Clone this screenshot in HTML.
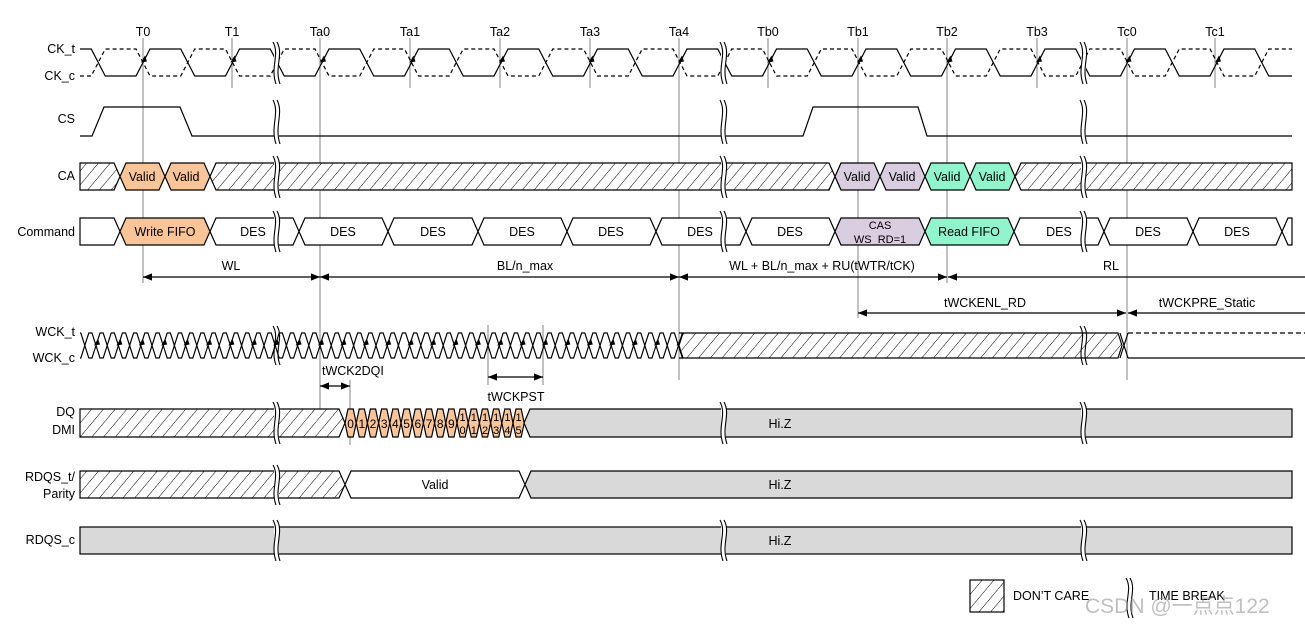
<!DOCTYPE html>
<html><head><meta charset="utf-8"><style>
html,body{margin:0;padding:0;background:#fff;}
svg{display:block;font-family:"Liberation Sans",Arial,sans-serif;}
</style></head><body>
<svg id="s" width="1305" height="626" viewBox="0 0 1305 626" xmlns="http://www.w3.org/2000/svg">
<defs>
<pattern id="h" patternUnits="userSpaceOnUse" width="9" height="9" patternTransform="rotate(40)">
<rect width="9" height="9" fill="#fff"/><line x1="0" y1="0" x2="0" y2="9" stroke="#000" stroke-width="1"/>
</pattern>
<marker id="a" viewBox="0 0 10 10" refX="10" refY="5" markerWidth="9" markerHeight="9" markerUnits="userSpaceOnUse" orient="auto-start-reverse"><path d="M0,1 L10,5 L0,9 z" fill="#000"/></marker>
</defs>
<g id="g"></g>
</svg>
<script>
var o=[];
function P(x){o.push(x);}
var T=[143,232,320,410,500,590,679,768,858,947,1037,1127,1215];
var TN=["T0","T1","Ta0","Ta1","Ta2","Ta3","Ta4","Tb0","Tb1","Tb2","Tb3","Tc0","Tc1"];
function txt(x,y,t,anc,sz,fill){P('<text x="'+x+'" y="'+y+'" font-size="'+(sz||12.5)+'" text-anchor="'+(anc||"middle")+'" fill="'+(fill||"#000")+'">'+t+'</text>');}
function vl(x,y1,y2){P('<line x1="'+x+'" y1="'+y1+'" x2="'+x+'" y2="'+y2+'" stroke="#999" stroke-width="1.2"/>');}
var vEnd=[283,88,410,88,88,88,380,88,318,283,88,380,88];
for(var i=0;i<T.length;i++){vl(T[i],38,vEnd[i]);txt(T[i],36,TN[i]);}
vl(488,325,385);vl(543,325,385);vl(350,380,445);
function lb(y,t){txt(75,y,t,"end",12.5);}
lb(53,"CK_t");lb(80,"CK_c");lb(123,"CS");lb(180,"CA");lb(236,"Command");
lb(336,"WCK_t");lb(362,"WCK_c");lb(416,"DQ");lb(434,"DMI");lb(481,"RDQS_t/");lb(498,"Parity");lb(544,"RDQS_c");
function clock(x0,x1,yt,yb,tr,per,hw,arrows){
  var half=per/2, ym=(yt+yb)/2;
  var k=Math.ceil((x0-tr)/half); var cs=[];
  for(var c=tr+k*half;c<x1;c+=half){cs.push([c,k]);k++;}
  var firstRise=((cs[0][1]%2)+2)%2==0;
  var tl=firstRise?yb:yt, cl=firstRise?yt:yb;
  var pt="M"+x0+","+tl, pc="M"+x0+","+cl;
  cs.forEach(function(e){var c=e[0];
    pt+=" L"+(c-hw)+","+tl+" L"+(c+hw)+","+cl; pc+=" L"+(c-hw)+","+cl+" L"+(c+hw)+","+tl;
    var t=tl;tl=cl;cl=t;
    if(arrows&&((e[1]%2)+2)%2==0){P('<path d="M'+(c+2)+','+(ym-7)+' L'+(c-2)+','+(ym)+' L'+(c+4)+','+(ym-1)+'z" fill="#000"/>');}
  });
  pt+=" L"+x1+","+tl; pc+=" L"+x1+","+cl;
  P('<path d="'+pt+'" fill="none" stroke="#000" stroke-width="1.2"/>');
  P('<path d="'+pc+'" fill="none" stroke="#000" stroke-width="1.2" '+(arrows==2?'':'stroke-dasharray="4,3"')+'/>');
}
clock(80,1292,49,76,143,89.5,7,1);
clock(80,679,333,358,320,22.4,4,2);
function hex(x1,x2,y1,y2,fill,s){s=s||6;var ym=(y1+y2)/2;
P('<path d="M'+x1+','+ym+' L'+(x1+s)+','+y1+' L'+(x2-s)+','+y1+' L'+x2+','+ym+' L'+(x2-s)+','+y2+' L'+(x1+s)+','+y2+'z" fill="'+fill+'" stroke="#000" stroke-width="1.2"/>');}
function rectL(x1,x2,y1,y2,fill,s){s=s||6;var ym=(y1+y2)/2;
P('<path d="M'+x1+','+y1+' L'+(x2-s)+','+y1+' L'+x2+','+ym+' L'+(x2-s)+','+y2+' L'+x1+','+y2+'z" fill="'+fill+'" stroke="#000" stroke-width="1.2"/>');}
function rectR(x1,x2,y1,y2,fill,s){s=s||6;var ym=(y1+y2)/2;
P('<path d="M'+x1+','+ym+' L'+(x1+s)+','+y1+' L'+x2+','+y1+' L'+x2+','+y2+' L'+(x1+s)+','+y2+'z" fill="'+fill+'" stroke="#000" stroke-width="1.2"/>');}
hex(679,1122,333,358,"url(#h)",4);
P('<path d="M1120,333 L1128,358 M1120,358 L1128,333" stroke="#000" stroke-width="1.2"/>');
P('<path d="M1128,333 L1305,333" stroke="#000" stroke-width="1.2" stroke-dasharray="5,3"/>');
P('<path d="M1128,358 L1305,358" stroke="#000" stroke-width="1.2"/>');
P('<path d="M80,136 L92,136 L104,107 L180,107 L192,136 L803,136 L813,107 L918,107 L927,136 L1292,136" fill="none" stroke="#000" stroke-width="1.2"/>');
var OR="#f9c597",PU="#d9cde0",GR="#8ff5cc",GY="#d9d9d9";
rectL(80,120,163,190,"url(#h)");
hex(120,165,163,190,OR);hex(165,210,163,190,OR);
hex(210,835,163,190,"url(#h)");
hex(835,880,163,190,PU);hex(880,925,163,190,PU);hex(925,970,163,190,GR);hex(970,1015,163,190,GR);
rectR(1015,1292,163,190,"url(#h)");
[142,186,857,902,947,992].forEach(function(x){txt(x,181,"Valid");});
var cb=[120,210,299,388,478,567,656,746,835,925,1014,1104,1193,1282];
rectL(80,120,218,245,"#fff");
for(var i=0;i<cb.length-1;i++){var f="#fff";if(i==0)f=OR;if(i==8)f=PU;if(i==9)f=GR;hex(cb[i],cb[i+1],218,245,f);}
rectR(1282,1292,218,245,"#fff");
txt(165,236,"Write FIFO");
[253,343,433,522,611,700,790,1059,1148,1237].forEach(function(x){txt(x,236,"DES");});
txt(880,229,"CAS","middle",11);txt(880,243,"WS_RD=1","middle",11);
txt(969,236,"Read FIFO");
rectL(80,345,409,437,"url(#h)");
for(var i=0;i<16;i++){var x=345+i*11.2;hex(x,x+11.2,409,437,OR,3);
 if(i<10)txt(x+5.6,428,""+i,"middle",12);else{txt(x+5.6,421,"1","middle",11);txt(x+5.6,434,""+(i-10),"middle",11);}}
rectR(524,1292,409,437,GY);
txt(780,428,"Hi.Z");
rectL(80,345,471,498,"url(#h)");
hex(345,525,471,498,"#fff");
rectR(525,1292,471,498,GY);
txt(435,489,"Valid");txt(780,489,"Hi.Z");
P('<rect x="80" y="527" width="1212" height="27" fill="'+GY+'" stroke="#000" stroke-width="1.2"/>');
txt(780,545,"Hi.Z");
function brk(x,y1,y2,white){var h=y2-y1;
 if(white)P('<rect x="'+(x-1)+'" y="'+(y1+2)+'" width="5" height="'+(h-4)+'" fill="#fff"/>');
 for(var d=0;d<5;d+=4){var xx=x+d;P('<path d="M'+(xx-2)+','+y1+' C'+(xx+5)+','+(y1+h*0.3)+' '+(xx-5)+','+(y1+h*0.6)+' '+(xx+1)+','+y2+'" fill="none" stroke="#000" stroke-width="1.1"/>');}}
[275,722,1082].forEach(function(x){brk(x,42,84,1);brk(x,100,144,1);brk(x,156,198,1);brk(x,211,252,1);brk(x,402,444,1);brk(x,520,561,1);});
brk(275,465,505,1);
brk(1082,326,365,0);
brk(275,326,365,0);
function arr(x1,x2,y,both){P('<line x1="'+x1+'" y1="'+y+'" x2="'+x2+'" y2="'+y+'" stroke="#000" stroke-width="1.2" '+(both?'marker-start="url(#a)" ':'')+'marker-end="url(#a)"/>');}
arr(143,320,277,1);arr(320,679,277,1);arr(679,947,277,1);
P('<line x1="1305" y1="277" x2="948" y2="277" stroke="#000" stroke-width="1.2" marker-end="url(#a)"/>');
txt(231,270,"WL");txt(525,270,"BL/n_max");txt(822,270,"WL + BL/n_max + RU(tWTR/tCK)");txt(1111,270,"RL");
arr(858,1126,313,1);
P('<line x1="1305" y1="313" x2="1128" y2="313" stroke="#000" stroke-width="1.2" marker-end="url(#a)"/>');
txt(985,307,"tWCKENL_RD");txt(1207,307,"tWCKPRE_Static");
arr(320,350,386,1);txt(322,375,"tWCK2DQI","start");
arr(488,543,377,1);txt(516,401,"tWCKPST");
P('<rect x="970" y="580" width="34" height="32" fill="url(#h)" stroke="#000" stroke-width="1.2"/>');
txt(1013,600,"DON\u2019T CARE","start");
brk(1128,578,618,0);
txt(1149,600,"TIME BREAK","start");
txt(1085,613,"CSDN @一点点122","start",21,"rgba(150,150,150,0.6)");
document.getElementById("g").innerHTML=o.join("");
</script>
</body></html>
